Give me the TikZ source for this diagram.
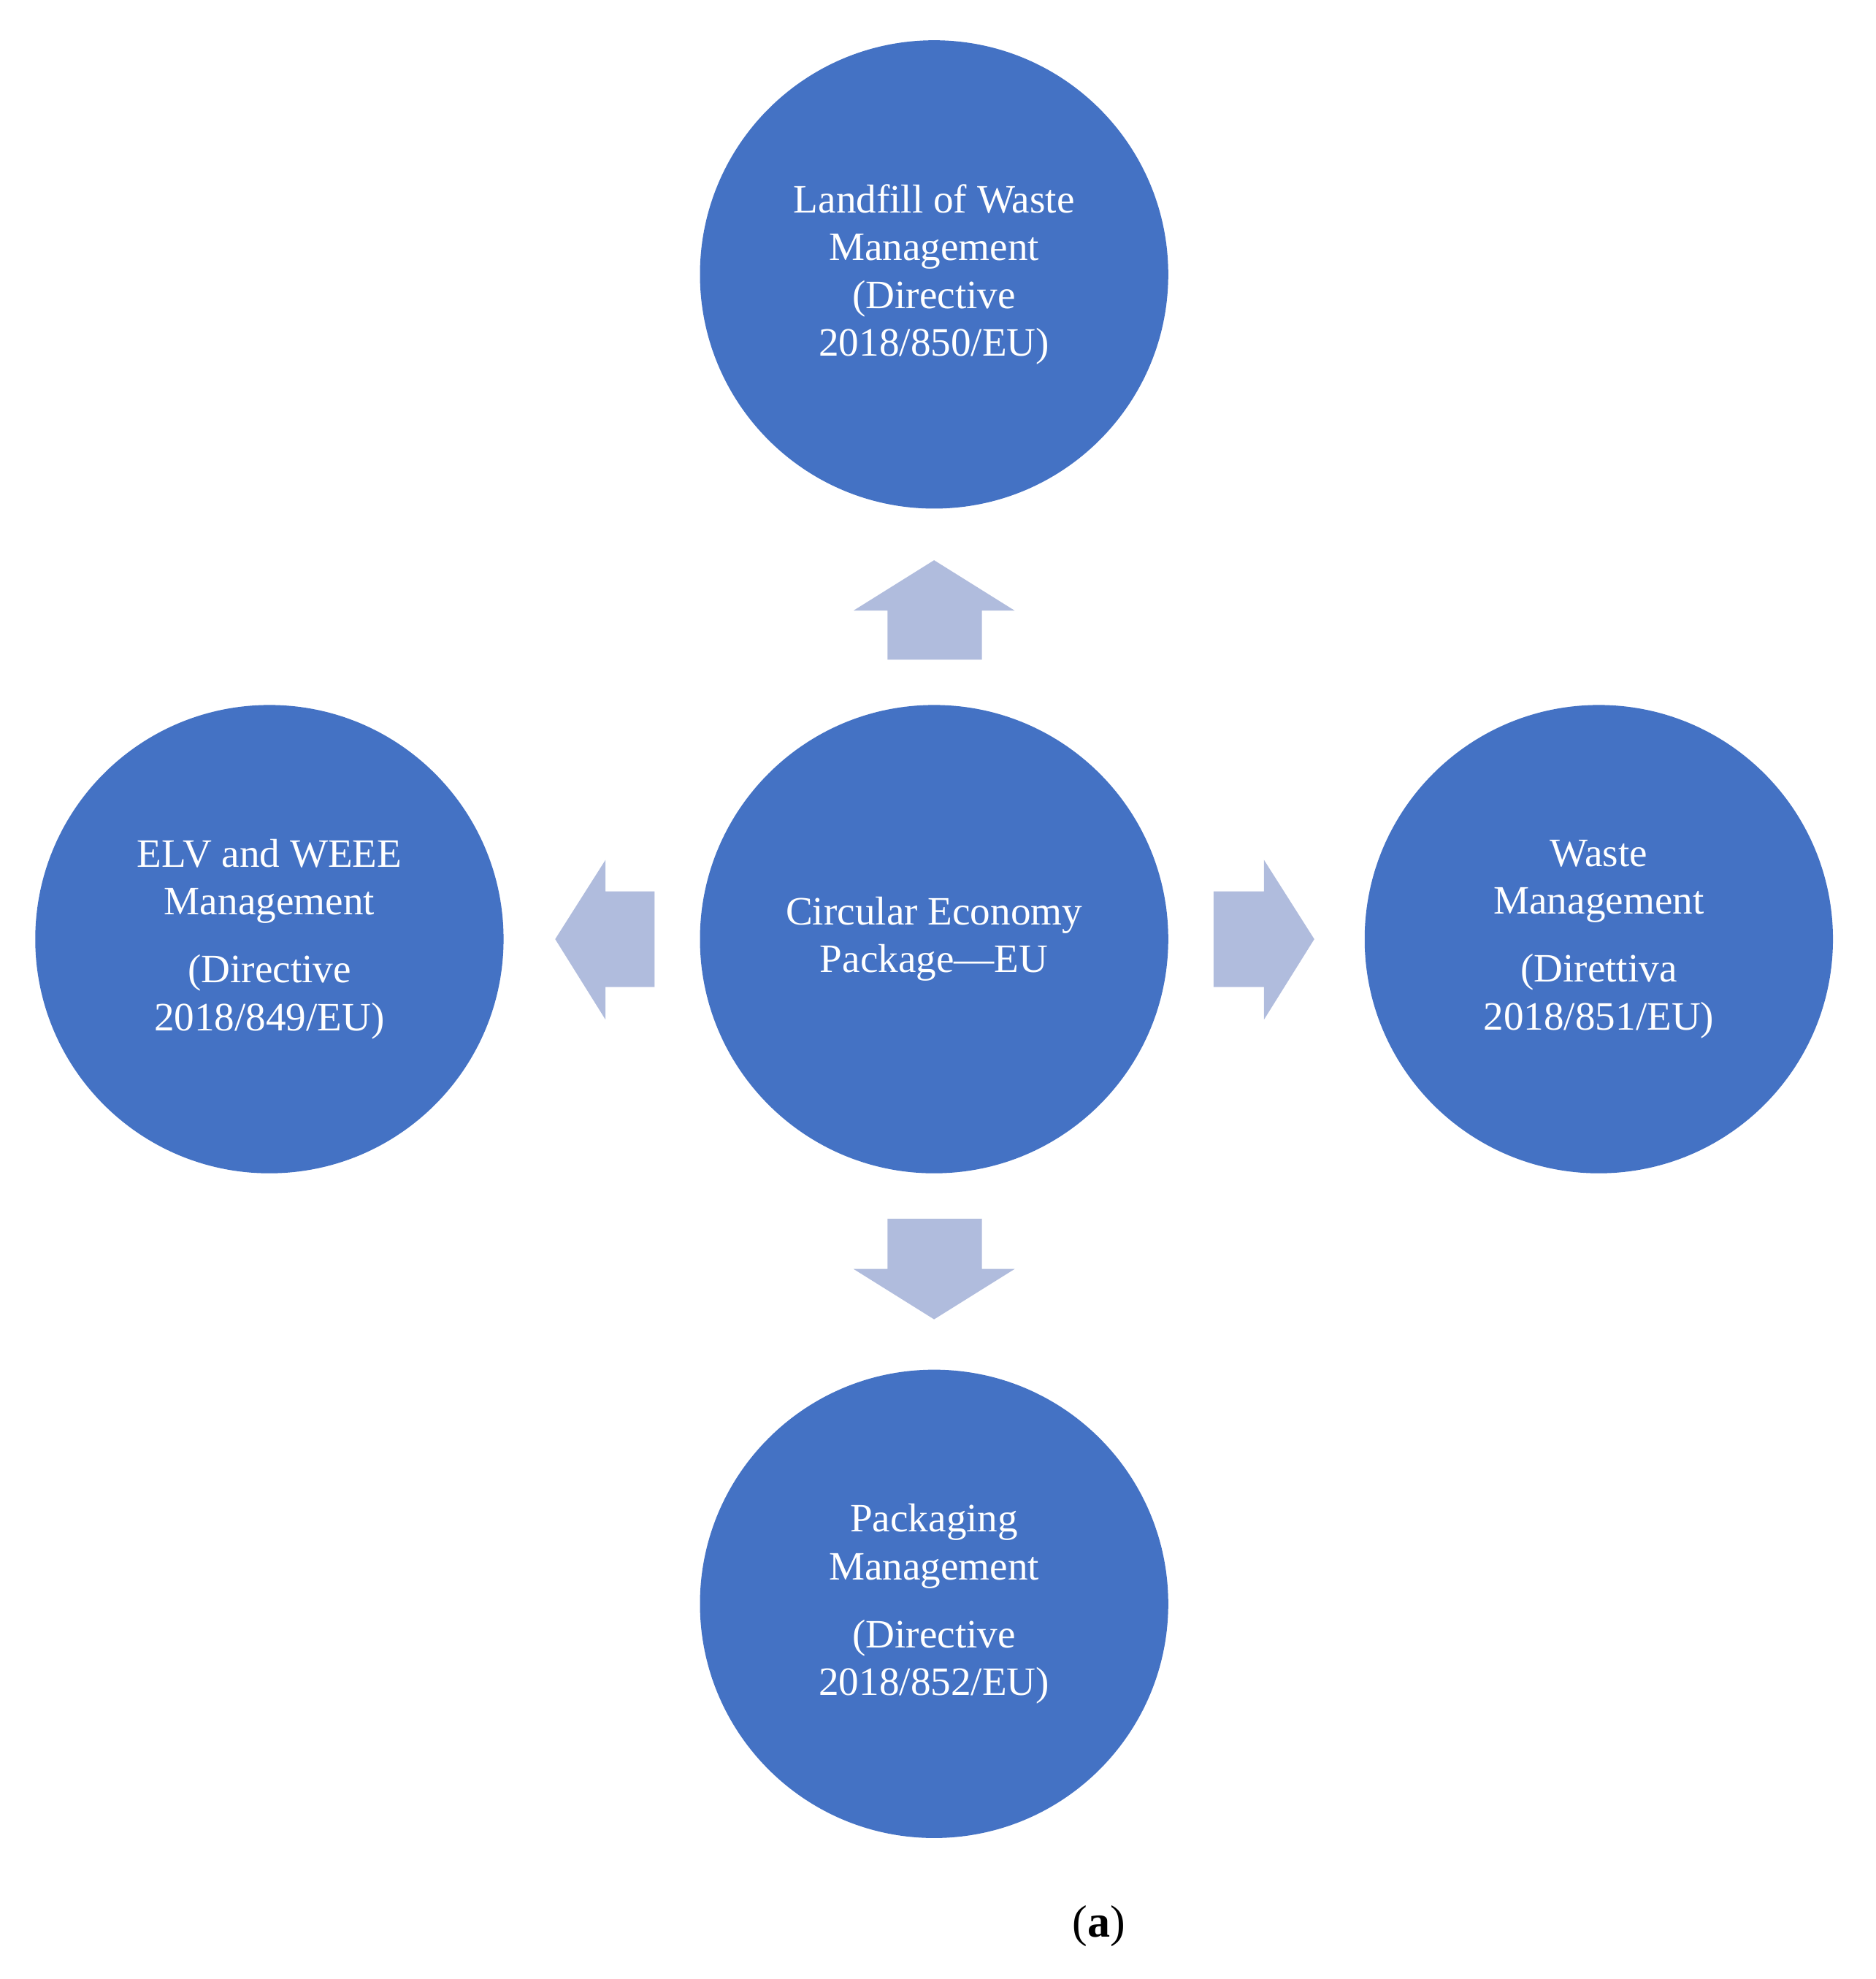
\documentclass[tikz,border=0pt]{standalone}
\usepackage{fontspec}
\setmainfont{Liberation Serif}
\definecolor{cblue}{HTML}{4472C4}
\definecolor{ablue}{HTML}{B0BCDD}
\begin{document}
\begin{tikzpicture}[x=0.5pt,y=-0.5pt,
  circ/.style={circle,fill=cblue,minimum size=186pt,inner sep=0pt,text=white,align=center,font=\fontsize{16}{19}\selectfont},
  barrow/.style={fill=ablue}]
\useasboundingbox (0,0) rectangle (1490,1572);
\node[circ] (top) at (742,218) {Landfill of Waste\\Management\\(Directive\\2018/850/EU)};
\node[circ] (mid) at (742,746) {Circular Economy\\Package—EU};
\node[circ] (left) at (214,746) {ELV and WEEE\\Management\\[8pt](Directive\\2018/849/EU)};
\node[circ] (right) at (1270,746) {Waste\\Management\\[8pt](Direttiva\\2018/851/EU)};
\node[circ] (bot) at (742,1274) {Packaging\\Management\\[8pt](Directive\\2018/852/EU)};
\fill[barrow] (742,445) -- (806,485) -- (780,485) -- (780,524) -- (705,524) -- (705,485) -- (678,485) -- cycle;
\fill[barrow] (742,1048) -- (806,1008) -- (780,1008) -- (780,968) -- (705,968) -- (705,1008) -- (678,1008) -- cycle;
\fill[barrow] (441,746) -- (481,683) -- (481,708) -- (520,708) -- (520,784) -- (481,784) -- (481,810) -- cycle;
\fill[barrow] (1044,746) -- (1004,683) -- (1004,708) -- (964,708) -- (964,784) -- (1004,784) -- (1004,810) -- cycle;
\node[font=\fontsize{18}{20}\selectfont] (lab) at (873,1530) {(\textbf{a})};
\end{tikzpicture}
\end{document}
